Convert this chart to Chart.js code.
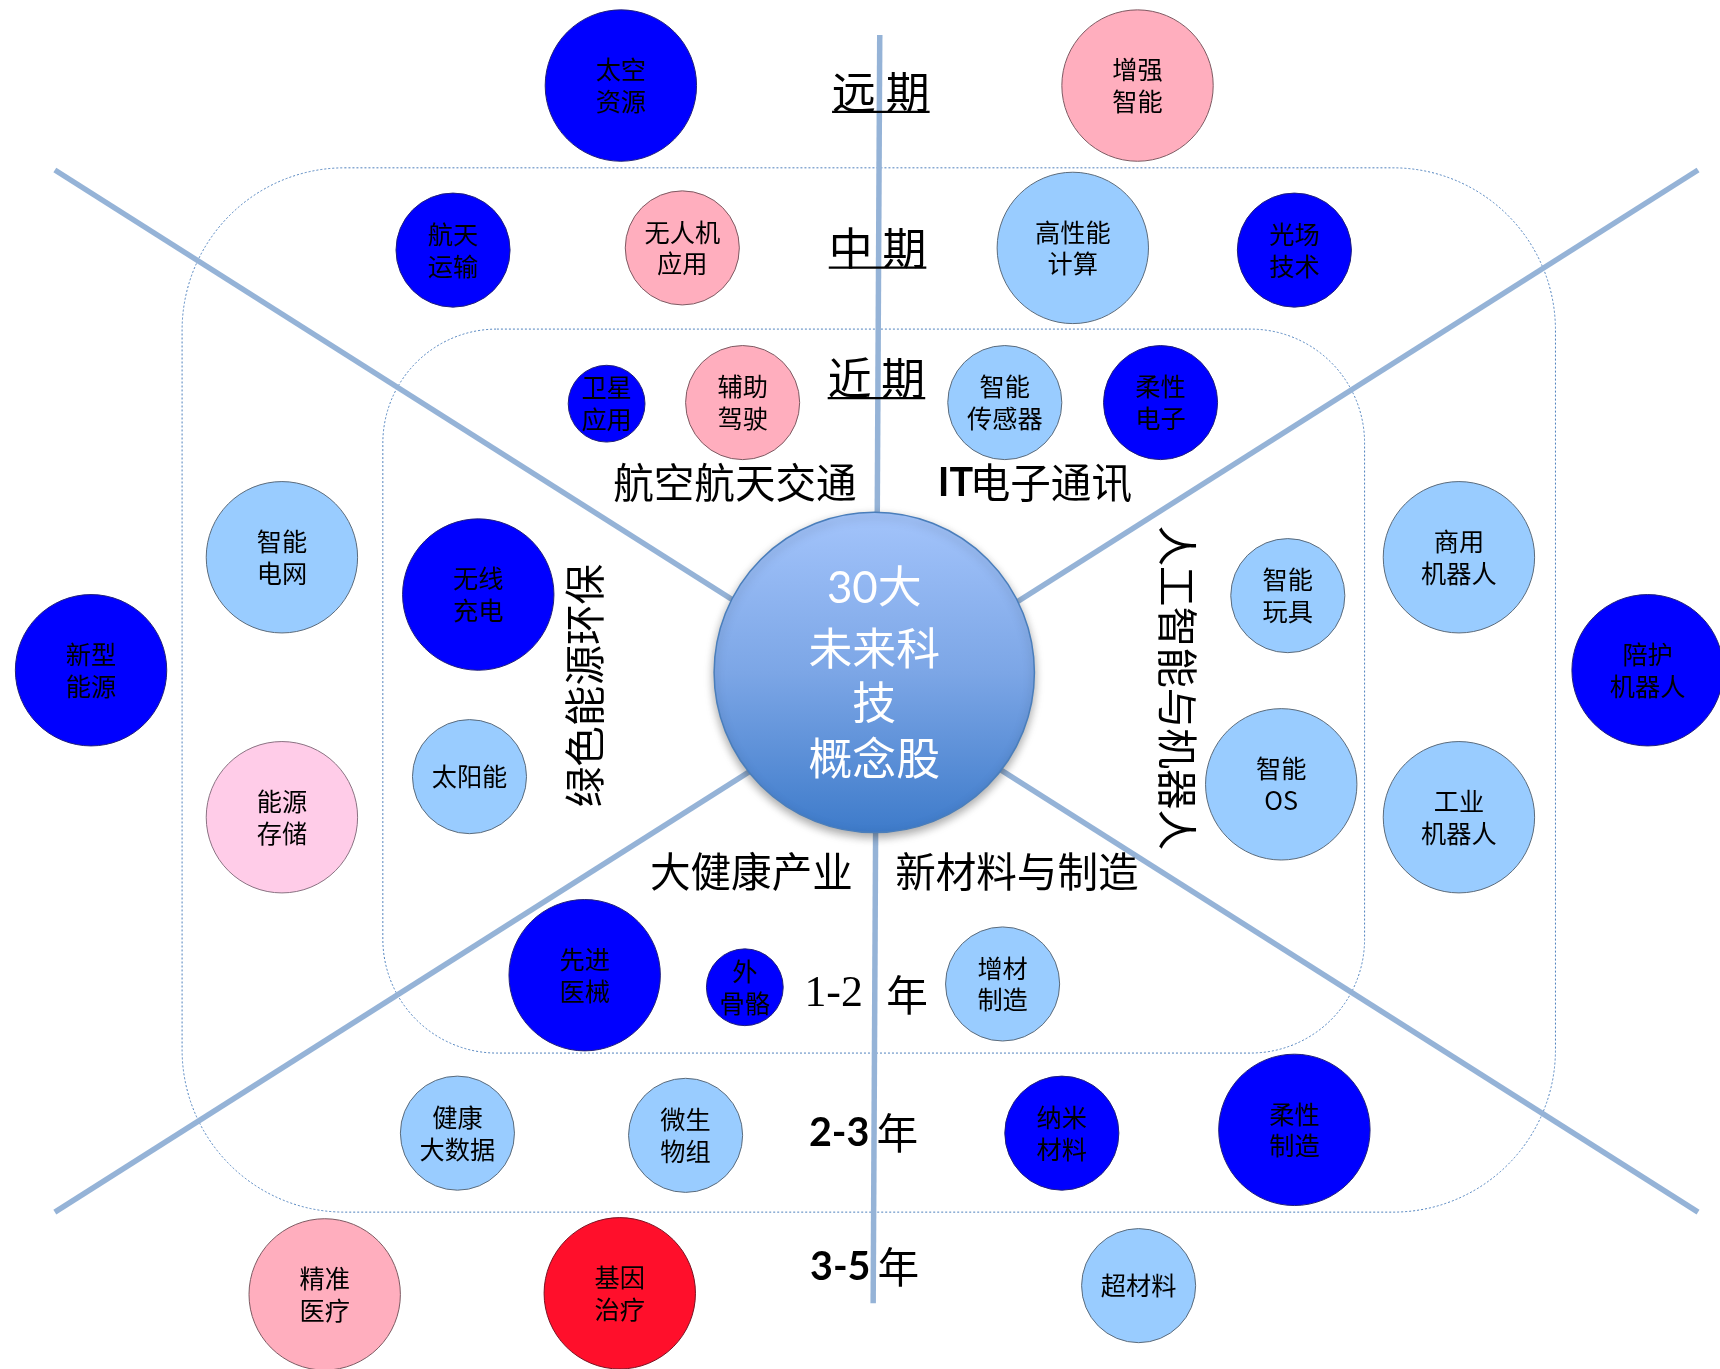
<!DOCTYPE html>
<html>
<head>
<meta charset="utf-8">
<script src="https://cdn.jsdelivr.net/npm/chart.js@4.4.1/dist/chart.umd.min.js"></script>
<style>
  html, body { margin: 0; padding: 0; background: #fff; }
  #wrap { width: 1720px; height: 1369px; }
</style>
</head>
<body>
<div id="wrap"><canvas id="chart"></canvas></div>
<script>
// all positions are on a 1568 x 1248 grid, the axes map that onto the canvas
const names = ['太空\n资源', '增强\n智能', '航天\n运输', '无人机\n应用', '高性能\n计算', '光场\n技术',
  '卫星\n应用', '辅助\n驾驶', '智能\n传感器', '柔性\n电子', '智能\n电网', '新型\n能源',
  '无线\n充电', '太阳能', '能源\n存储', '智能\n玩具', '商用\n机器人', '陪护\n机器人',
  '智能\nOS', '工业\n机器人', '先进\n医械', '外\n骨骼', '增材\n制造', '健康\n大数据',
  '微生\n物组', '纳米\n材料', '柔性\n制造', '精准\n医疗', '基因\n治疗', '超材料'];
const xs = [566, 1037, 413, 622, 978, 1180, 553, 677, 916, 1058, 257, 83,
  436, 428, 257, 1174, 1330, 1502, 1168, 1330, 533, 679, 914, 417,
  625, 968, 1180, 296, 565, 1038];
const ys = [78, 78, 228, 226, 226, 228, 368, 367, 367, 367, 508, 611,
  542, 708, 745, 543, 508, 611, 715, 745, 889, 900, 897, 1033,
  1035, 1033, 1030, 1180, 1179, 1172];
const sizes = [69, 69, 52, 52, 69, 52, 35, 52, 52, 52, 69, 69,
  69, 52, 69, 52, 69, 69, 69, 69, 69, 35, 52, 52,
  52, 52, 69, 69, 69, 52];
const kinds = ['blue', 'pink', 'blue', 'pink', 'light', 'blue', 'blue', 'pink', 'light', 'blue', 'light', 'blue',
  'blue', 'light', 'soft', 'light', 'light', 'blue', 'light', 'light', 'blue', 'blue', 'light', 'light',
  'light', 'blue', 'blue', 'pink', 'red', 'light'];

const periodLabels = ['远 期', '中 期', '近 期'];
const periodX = [803, 800, 799];
const periodY = [84, 226, 345];

const sectorLabels = ['航空航天交通', '电子通讯', '大健康产业', '新材料与制造', '绿色能源环保', '人工智能与机器人'];
const sectorX = [670, 958, 685, 927, 533, 1073];
const sectorY = [440, 440, 795, 795, 625, 627];
const sectorTurn = [0, 0, 0, 0, -90, 90];

const yearLabels = ['1-2', '2-3', '3-5'];
const yearX = [760, 765, 766];
const yearNianX = [827, 818, 819];
const yearY = [907, 1033, 1155];

const centerText = ['30大', '未来科', '技', '概念股'];
const centerTextY = [537, 591, 640, 691];
const centerX = [797];
const centerY = [613];
const centerR = [146];

const fills = { blue: '#0000FF', light: '#99CCFF', pink: '#FFAEBE', soft: '#FFCCE8', red: '#FF0F2B' };
const edges = { blue: '#20207a', light: '#5b6b7b', pink: '#7d5a62', soft: '#8a7282', red: '#7a1020' };

const CJK = '"Noto Sans CJK SC", sans-serif';

function scaleK(chart) {
  const a = chart.chartArea;
  return (a && a.width ? a.width : 1720) / 1568;
}

function roundBox(c, x, y, w, h, r) {
  c.beginPath();
  c.moveTo(x + r, y);
  c.arcTo(x + w, y, x + w, y + h, r);
  c.arcTo(x + w, y + h, x, y + h, r);
  c.arcTo(x, y + h, x, y, r);
  c.arcTo(x, y, x + w, y, r);
  c.closePath();
}

const frame = {
  id: 'frame',
  beforeDatasetsDraw(chart) {
    const c = chart.ctx, sx = chart.scales.x, sy = chart.scales.y;
    const X = v => sx.getPixelForValue(v), Y = v => sy.getPixelForValue(v);
    const k = scaleK(chart);
    c.save();
    c.strokeStyle = '#4F81BD';
    c.lineWidth = 1;
    c.setLineDash([2, 2]);
    [[166, 153, 1418, 1105, 148], [349, 300, 1244, 960, 104]].forEach(b => {
      roundBox(c, X(b[0]), Y(b[1]), X(b[2]) - X(b[0]), Y(b[3]) - Y(b[1]), b[4] * k);
      c.stroke();
    });
    c.setLineDash([]);
    c.strokeStyle = '#95B3D7';
    c.lineWidth = 5 * k;
    [[802, 32, 796, 1188], [50, 155, 1548, 1105], [50, 1105, 1548, 155]].forEach(l => {
      c.beginPath();
      c.moveTo(X(l[0]), Y(l[1]));
      c.lineTo(X(l[2]), Y(l[3]));
      c.stroke();
    });
    c.restore();
  },
  beforeDatasetDraw(chart, args) {
    if (args.index !== 0) return;
    const c = chart.ctx;
    c.save();
    c.shadowColor = 'rgba(0,0,0,0.35)';
    c.shadowBlur = 10;
    c.shadowOffsetY = 4;
  },
  afterDatasetDraw(chart, args) {
    if (args.index === 0) chart.ctx.restore();
  }
};

const texts = {
  id: 'texts',
  afterDatasetsDraw(chart) {
    const c = chart.ctx, sx = chart.scales.x, sy = chart.scales.y;
    const X = v => sx.getPixelForValue(v), Y = v => sy.getPixelForValue(v);
    const k = scaleK(chart);
    c.save();
    c.textAlign = 'center';
    c.textBaseline = 'middle';

    // bubble names
    c.fillStyle = '#000';
    c.font = (23 * k) + 'px ' + CJK;
    names.forEach((n, i) => {
      const lines = n.split('\n');
      const gap = 29;
      lines.forEach((t, j) => {
        const off = (j - (lines.length - 1) / 2) * gap;
        c.fillText(t, X(xs[i]), Y(ys[i] + off));
      });
    });

    // period headings, underlined
    c.font = (40 * k) + 'px ' + CJK;
    c.lineWidth = 2 * k;
    c.strokeStyle = '#000';
    periodLabels.forEach((t, i) => {
      c.fillText(t, X(periodX[i]), Y(periodY[i]));
      const w = c.measureText(t).width;
      c.beginPath();
      c.moveTo(X(periodX[i]) - w / 2, Y(periodY[i] + 18));
      c.lineTo(X(periodX[i]) + w / 2, Y(periodY[i] + 18));
      c.stroke();
    });

    // sector names
    c.font = (37 * k) + 'px ' + CJK;
    sectorLabels.forEach((t, i) => {
      c.save();
      c.translate(X(sectorX[i]), Y(sectorY[i]));
      c.rotate(sectorTurn[i] * Math.PI / 180);
      c.fillText(t, 0, 0);
      c.restore();
    });
    c.font = 'bold ' + (36 * k) + 'px Lato, "Liberation Sans", sans-serif';
    c.fillText('IT', X(871), Y(441));

    // year rows
    yearLabels.forEach((t, i) => {
      c.font = i === 0 ? (40 * k) + 'px "Liberation Serif", serif'
                       : 'bold ' + (36 * k) + 'px Lato, "Liberation Sans", sans-serif';
      c.fillText(t, X(yearX[i]), Y(yearY[i]));
      c.font = (38 * k) + 'px ' + CJK;
      c.fillText('年', X(yearNianX[i]), Y(yearY[i]));
    });

    // centre text
    c.fillStyle = '#fff';
    centerText.forEach((t, i) => {
      c.font = (40 * k) + 'px ' + (i === 0 ? 'Lato, ' : '') + CJK;
      c.fillText(t, X(centerX[0]), Y(centerTextY[i]));
    });
    c.restore();
  }
};

const pts = names.map((n, i) => ({ x: xs[i], y: ys[i] }));

function centreFill(c) {
  const ch = c.chart;
  const sy = ch.scales && ch.scales.y;
  if (!sy) return '#7CA6E6';
  const top = sy.getPixelForValue(centerY[0] - centerR[0]);
  const bot = sy.getPixelForValue(centerY[0] + centerR[0]);
  if (!isFinite(top) || !isFinite(bot) || top === bot) return '#7CA6E6';
  const g = ch.ctx.createLinearGradient(0, top, 0, bot);
  g.addColorStop(0, '#A3C4FB');
  g.addColorStop(0.5, '#7CA6E6');
  g.addColorStop(1, '#3E7BCA');
  return g;
}

new Chart(document.getElementById('chart'), {
  type: 'bubble',
  data: {
    datasets: [
      {
        label: 'centre',
        data: [{ x: centerX[0], y: centerY[0] }],
        radius: c => centerR[0] * scaleK(c.chart),
        backgroundColor: centreFill,
        borderColor: '#4A7EBB',
        borderWidth: 1.5,
        clip: false
      },
      {
        label: 'topics',
        data: pts,
        radius: c => sizes[c.dataIndex] * scaleK(c.chart),
        backgroundColor: c => fills[kinds[c.dataIndex]],
        borderColor: c => edges[kinds[c.dataIndex]],
        borderWidth: 1,
        clip: false
      }
    ]
  },
  options: {
    responsive: true,
    maintainAspectRatio: false,
    animation: false,
    events: [],
    layout: { padding: 0, autoPadding: false },
    scales: {
      x: { type: 'linear', min: 0, max: 1568, display: false },
      y: { type: 'linear', min: 0, max: 1248, reverse: true, display: false }
    },
    plugins: {
      legend: { display: false },
      tooltip: { enabled: false }
    }
  },
  plugins: [frame, texts]
});
</script>
</body>
</html>
